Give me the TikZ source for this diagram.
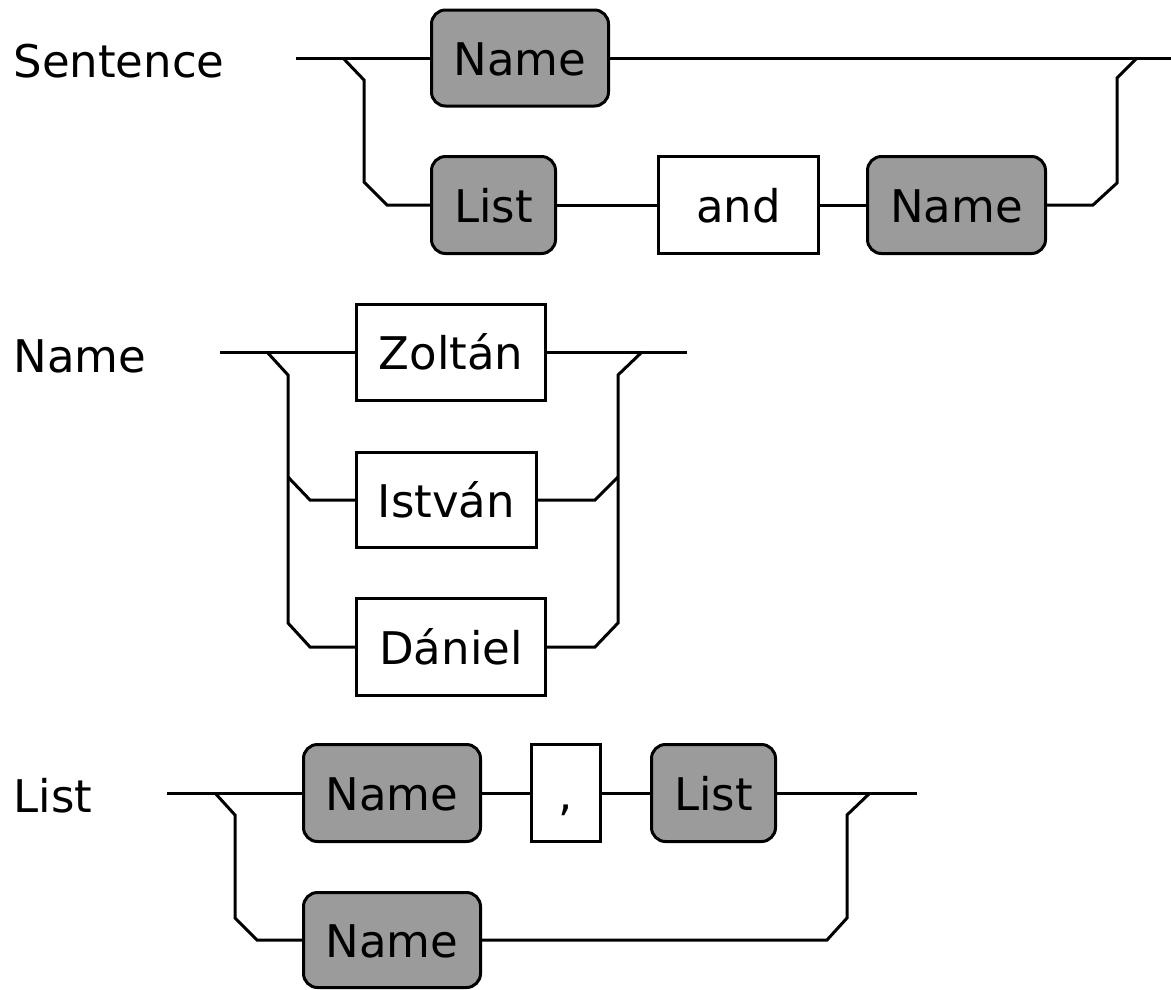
\documentclass[tikz,border=0pt]{standalone}
\usepackage{fontspec}
\setmainfont{DejaVu Sans}
\definecolor{ntfill}{RGB}{155,155,155}
\begin{document}
\begin{tikzpicture}[x=1pt,y=-1pt,line width=3pt,line join=miter,
  box/.style={draw,inner sep=0pt,text height=34pt,text depth=0pt,
    font=\fontsize{45}{54}\selectfont},
  nonterm/.style={box,fill=ntfill,rounded corners=14pt},
  term/.style={box,fill=white},
  rulename/.style={anchor=west,inner sep=0pt,text height=34pt,text depth=0pt,
    font=\fontsize{45}{54}\selectfont}]
\useasboundingbox (0,0) rectangle (1171,989);

% ---------- Sentence ----------
\node[rulename] (sLabel) at (12,60) {Sentence};
\node[nonterm,minimum width=177pt,minimum height=96pt] (s1) at (520,58) {Name};
\node[nonterm,minimum width=124pt,minimum height=97pt] (s2) at (493.5,205) {List};
\node[term,minimum width=160pt,minimum height=97pt] (s3) at (738.5,205) {and};
\node[nonterm,minimum width=178pt,minimum height=97pt] (s4) at (956.5,205) {Name};

\coordinate (sIn) at (296,58);
\coordinate (sOut) at (1171,58);
\coordinate (sL1) at (343,58);
\coordinate (sL2) at (364,80);
\coordinate (sL3) at (364,182);
\coordinate (sL4) at (387,205);
\coordinate (sR1) at (1137,58);
\coordinate (sR2) at (1117,78);
\coordinate (sR3) at (1117,183);
\coordinate (sR4) at (1093,205);

\draw (sIn) -- (s1.west);
\draw (s1.east) -- (sOut);
\draw (sL1) -- (sL2) -- (sL3) -- (sL4) -- (s2.west);
\draw (s2.east) -- (s3.west);
\draw (s3.east) -- (s4.west);
\draw (s4.east) -- (sR4) -- (sR3) -- (sR2) -- (sR1);

% ---------- Name ----------
\node[rulename] (nLabel) at (12,355) {Name};
\node[term,minimum width=189pt,minimum height=96pt] (n1) at (451,352) {Zoltán};
\node[term,minimum width=180pt,minimum height=95pt] (n2) at (446.5,500) {István};
\node[term,minimum width=189pt,minimum height=97pt] (n3) at (451,647) {Dániel};

\coordinate (nIn) at (220,352);
\coordinate (nOut) at (687,352);
\coordinate (nL1) at (267,352);
\coordinate (nL2) at (288,375);
\coordinate (nL3) at (288,623);
\coordinate (nL4) at (310,647);
\coordinate (nM1) at (288,477);
\coordinate (nM2) at (310,500);
\coordinate (nR1) at (642,352);
\coordinate (nR2) at (618,375);
\coordinate (nR3) at (618,623);
\coordinate (nR4) at (595,647);
\coordinate (nRM1) at (618,477);
\coordinate (nRM2) at (595,500);

\draw (nIn) -- (n1.west);
\draw (n1.east) -- (nOut);
\draw (nL1) -- (nL2) -- (nL3) -- (nL4) -- (n3.west);
\draw (nM1) -- (nM2) -- (n2.west);
\draw (n3.east) -- (nR4) -- (nR3) -- (nR2) -- (nR1);
\draw (n2.east) -- (nRM2) -- (nRM1);

% ---------- List ----------
\node[rulename] (lLabel) at (12,795) {List};
\node[nonterm,minimum width=177pt,minimum height=97pt] (l1) at (392,793) {Name};
\node[term,minimum width=69pt,minimum height=97pt] (l2) at (566,793) {,};
\node[nonterm,minimum width=124pt,minimum height=97pt] (l3) at (713.5,793) {List};
\node[nonterm,minimum width=177pt,minimum height=95pt] (l4) at (392,940) {Name};

\coordinate (lIn) at (167,793);
\coordinate (lOut) at (917,793);
\coordinate (lL1) at (215,793);
\coordinate (lL2) at (235,815);
\coordinate (lL3) at (235,918);
\coordinate (lL4) at (257,940);
\coordinate (lR1) at (870,793);
\coordinate (lR2) at (847,815);
\coordinate (lR3) at (847,918);
\coordinate (lR4) at (827,940);

\draw (lIn) -- (l1.west);
\draw (l1.east) -- (l2.west);
\draw (l2.east) -- (l3.west);
\draw (l3.east) -- (lOut);
\draw (lL1) -- (lL2) -- (lL3) -- (lL4) -- (l4.west);
\draw (l4.east) -- (lR4) -- (lR3) -- (lR2) -- (lR1);
\end{tikzpicture}
\end{document}
